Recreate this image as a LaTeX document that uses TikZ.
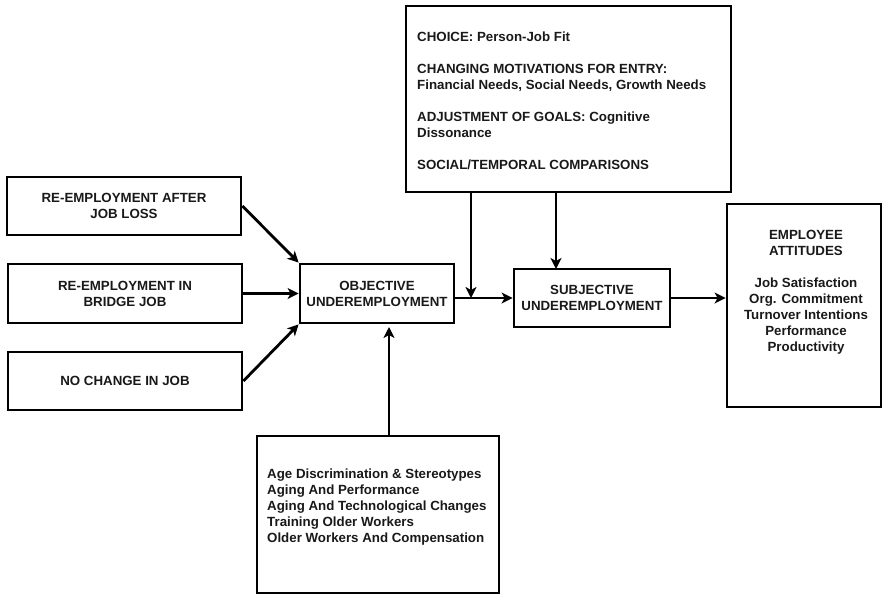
\documentclass[tikz,border=0pt]{standalone}
\usepackage{fontspec}
\setmainfont{Liberation Sans}
\usetikzlibrary{arrows.meta,calc}
\begin{document}
\begin{tikzpicture}[x=1pt,y=-1pt,
  every node/.style={font=\fontsize{13.3}{16}\selectfont\bfseries, text=black!90},
  box/.style={draw=black, line width=2.8pt, inner sep=0pt, align=center},
  txt/.style={inner sep=0pt},
  arr/.style={line width=2.8pt, draw=black, -{Stealth[length=11pt,width=11pt,inset=3pt]}}]
\useasboundingbox (0,0) rectangle (883,594);
\fill[white] (0,0) rectangle (883,594);
% boxes
\node[box, minimum width=234pt, minimum height=58pt] (b1) at (124,206) {RE-EMPLOYMENT AFTER\\JOB LOSS};
\node[box, minimum width=234pt, minimum height=59pt] (b2) at (125,293.5) {RE-EMPLOYMENT IN\\BRIDGE JOB};
\node[box, minimum width=234pt, minimum height=58pt] (b3) at (125,381) {NO CHANGE IN JOB};
\node[box, minimum width=154pt, minimum height=59pt] (obj) at (377,293.5) {OBJECTIVE\\UNDEREMPLOYMENT};
\node[box, minimum width=156pt, minimum height=58pt] (subj) at (592,298) {SUBJECTIVE\\UNDEREMPLOYMENT};
\node[box, minimum width=325pt, minimum height=186pt] (top) at (568.5,99) {};
\node[box, minimum width=154pt, minimum height=203pt] (emp) at (804,305.5) {};
\node[box, minimum width=242pt, minimum height=157pt] (bot) at (378,514.5) {};
% texts
\node[txt, anchor=west, align=left] (toptxt) at (417,101) {CHOICE: Person-Job Fit\\[16pt]
CHANGING MOTIVATIONS FOR ENTRY:\\Financial Needs, Social Needs, Growth Needs\\[16pt]
ADJUSTMENT OF GOALS: Cognitive\\Dissonance\\[16pt]
SOCIAL/TEMPORAL COMPARISONS};
\node[txt, align=center] (emptxt) at (806,292) {EMPLOYEE\\ATTITUDES\\[16pt]
Job Satisfaction\\Org. Commitment\\Turnover Intentions\\Performance\\Productivity};
\node[txt, anchor=west, align=left] (bottxt) at (267,507) {Age Discrimination \& Stereotypes\\Aging And Performance\\Aging And Technological Changes\\Training Older Workers\\Older Workers And Compensation};
% coordinates
\coordinate (j) at (471,298);
\coordinate (k) at (556,269);
\coordinate (m) at (389,323);
% connectors
\draw[arr] (b1.east) -- (obj.north west);
\draw[arr] (b2.east) -- (obj.west);
\draw[arr] (b3.east) -- (obj.south west);
\draw[arr] (obj.east |- subj.west) -- (subj.west);
\draw[arr] (top.south -| j) -- (j);
\draw[arr] (top.south -| k) -- (k);
\draw[arr] (subj.east) -- (subj.east -| emp.west);
\draw[arr, shorten >=4pt] (bot.north -| m) -- (m);
\end{tikzpicture}
\end{document}
